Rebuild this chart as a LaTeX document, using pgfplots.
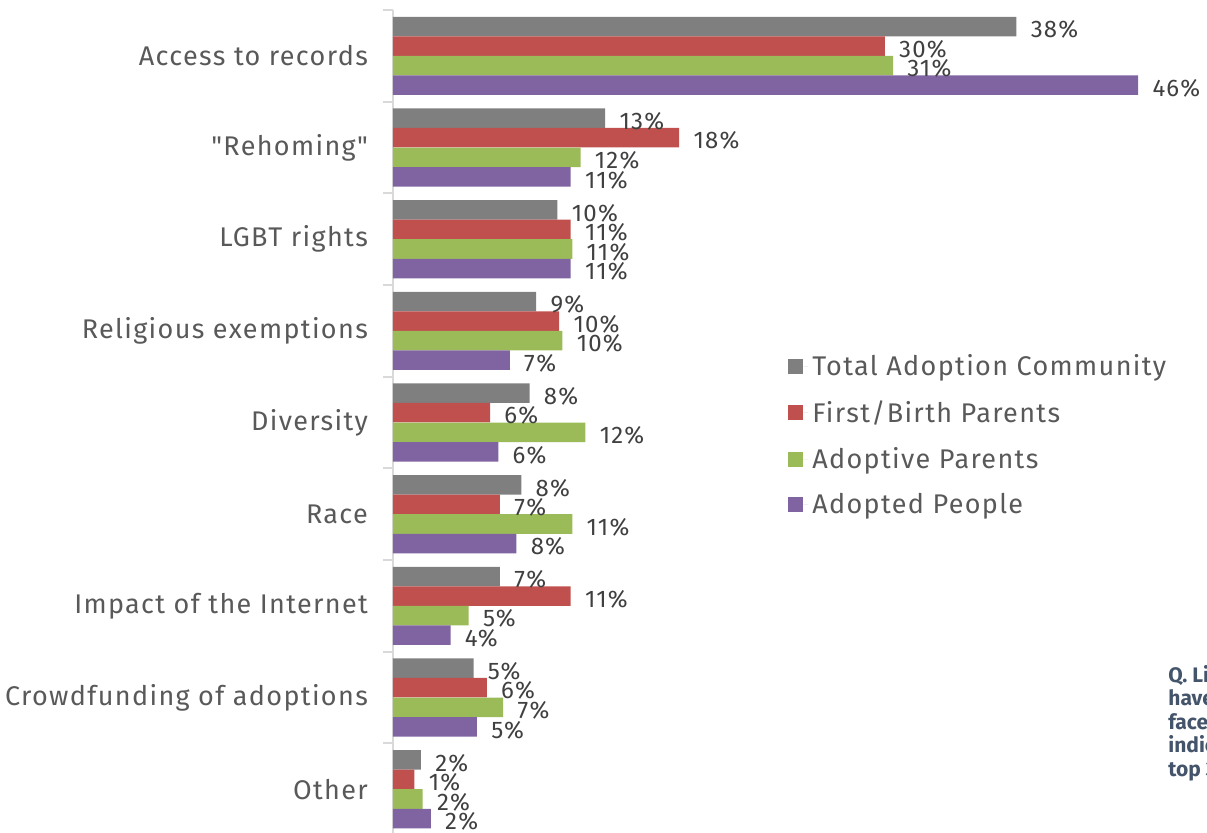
\documentclass[border=0pt]{standalone}
\usepackage{pgfplots}
\pgfplotsset{compat=1.18}
\usepackage{fontspec}
\setmainfont{Fira Sans}
\newfontfamily\spaced[LetterSpace=5]{Fira Sans}
\definecolor{cTotal}{HTML}{7F7F7F}
\definecolor{cFirst}{HTML}{C0504D}
\definecolor{cAdoptive}{HTML}{9BBB59}
\definecolor{cAdopted}{HTML}{8064A2}
\definecolor{txt}{HTML}{595959}
\definecolor{lbl}{HTML}{404040}
\definecolor{axisgray}{HTML}{D9D9D9}
\definecolor{notec}{HTML}{44546A}
\pgfplotsset{sq legend/.style={legend image code/.code={\fill[##1,draw=none] (-2pt,-3.75pt) rectangle (5.5pt,3.75pt); \path (5.5pt,0pt) -- (8pt,0pt);}}}
\begin{document}
\begin{tikzpicture}
\begin{axis}[
  at={(0pt,0pt)}, anchor=north west,
  scale only axis, width=403pt, height=412.5pt,
  xmin=0, xmax=49, ymin=0.5, ymax=9.5, y dir=reverse,
  axis x line=none, axis y line*=left,
  y axis line style={draw=axisgray, line width=1pt},
  ytick={1,...,9},
  yticklabels={Access to records,\symbol{34}Rehoming\symbol{34},LGBT rights,Religious exemptions,Diversity,Race,Impact of the Internet,Crowdfunding of adoptions,Other},
  major tick length=0pt,
  minor ytick={0.5,1.5,...,9.5},
  minor tick length=5pt, tick align=outside,
  minor tick style={draw=axisgray, line width=1pt},
  yticklabel style={font=\spaced\fontsize{13.5}{16}\selectfont, text=txt, xshift=-9pt},
  xbar, bar width=0.213,
  nodes near coords, point meta=explicit symbolic,
  nodes near coords align=horizontal,
  every node near coord/.append style={font=\spaced\fontsize{12}{14}\selectfont, text=lbl, anchor=west, inner sep=0pt, xshift=7pt, yshift=-1.5pt},
  legend style={at={(0.49,0.588)}, anchor=north west, draw=none, fill=none, inner sep=0pt,
    font=\spaced\fontsize{13.5}{16}\selectfont, text=txt, row sep=7pt,
    nodes={inner sep=2pt}},
  legend cell align=left,
  clip=false,
]
\addplot[fill=cTotal, draw=none, bar shift=-0.32, sq legend] coordinates {
 (37.9,1) [38\%] (12.9,2) [13\%] (10.0,3) [10\%] (8.7,4) [9\%] (8.3,5) [8\%]
 (7.8,6) [8\%] (6.5,7) [7\%] (4.9,8) [5\%] (1.7,9) [2\%]};
\addlegendentry{Total Adoption Community}
\addplot[fill=cFirst, draw=none, bar shift=-0.107, sq legend] coordinates {
 (29.9,1) [30\%] (17.4,2) [18\%] (10.8,3) [11\%] (10.1,4) [10\%] (5.9,5) [6\%]
 (6.5,6) [7\%] (10.8,7) [11\%] (5.7,8) [6\%] (1.3,9) [1\%]};
\addlegendentry{First/Birth Parents}
\addplot[fill=cAdoptive, draw=none, bar shift=0.107, sq legend] coordinates {
 (30.4,1) [31\%] (11.4,2) [12\%] (10.9,3) [11\%] (10.3,4) [10\%] (11.7,5) [12\%]
 (10.9,6) [11\%] (4.6,7) [5\%] (6.7,8) [7\%] (1.8,9) [2\%]};
\addlegendentry{Adoptive Parents}
\addplot[fill=cAdopted, draw=none, bar shift=0.32, sq legend] coordinates {
 (45.3,1) [46\%] (10.8,2) [11\%] (10.8,3) [11\%] (7.1,4) [7\%] (6.4,5) [6\%]
 (7.5,6) [8\%] (3.5,7) [4\%] (5.1,8) [5\%] (2.3,9) [2\%]};
\addlegendentry{Adopted People}
\end{axis}
\foreach \t [count=\i from 0] in {Q. Listed,have,faced,indicate,top 3}{
  \node[anchor=base west, inner sep=0pt, font=\bfseries\fontsize{10.5}{12}\selectfont, text=notec]
    at (387.5pt,{-336pt-11.8pt*\i}) {\t};
}
\pgfresetboundingbox
\useasboundingbox (-196.5pt,5pt) rectangle (407pt,-411pt);
\end{tikzpicture}
\end{document}
